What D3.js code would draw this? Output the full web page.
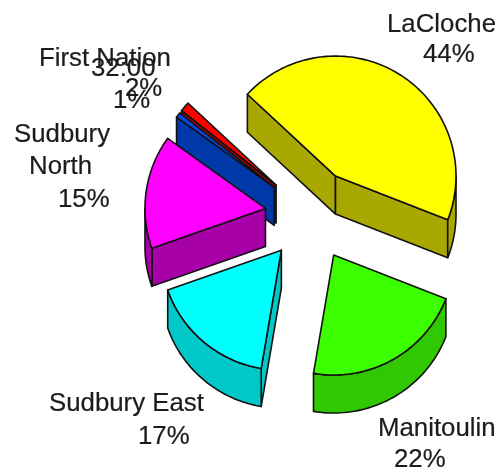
<!DOCTYPE html>
<html><head><meta charset="utf-8">
<script src="https://cdn.jsdelivr.net/npm/d3@7/dist/d3.min.js"></script>
<style>html,body{margin:0;background:#fff}svg{display:block;filter:blur(0.4px)}text{font-family:"Liberation Sans",Arial,sans-serif;fill:#1c1c1c;font-size:25.8px;stroke:#1c1c1c;stroke-width:0.2px}</style>
</head><body><div id="c"></div>
<script>
const categories = ["LaCloche","Manitoulin","Sudbury East","Sudbury North","32:00","First Nation"];
const shares = [43.9,21.7,16.9,15.3,0.7,1.3];
const topColors = ["#ffff00","#3cff00","#00ffff","#ff00ff","#0048e0","#ff0000"];
const wallColors = ["#a8a800","#30c800","#00c8c8","#a800a8","#0038a8","#a80000"];
const labelLines = [["LaCloche","44%"],["Manitoulin","22%"],["Sudbury East","17%"],["Sudbury","North","15%"],["32:00","1%"],["First Nation","2%"]];
const labelPos = [[[387,32],[423,62]],[[378,436],[394,467]],[[49,411],[138,444]],[[14,142],[29,174],[58,207]],[[91,76],[113,108]],[[39,66],[125,96]]];

const W=500,H=474,cx=311,cy=215,Rx=120.5,Ry=120,depth=38,explode=46;
const svg=d3.select("#c").append("svg").attr("width",W).attr("height",H);
const rad=Math.PI/180;
const pie=d3.pie().sort(null).value(d=>d.v).startAngle((-137)*rad+Math.PI/2).endAngle((-137+360)*rad+Math.PI/2);
const slices=pie(shares.map((v,i)=>({v,i})));
const sx=d3.scaleLinear().domain([-1,1]).range([-Rx,Rx]);
const sy=d3.scaleLinear().domain([-1,1]).range([-Ry,Ry]);
const pt=(c,t,dy=0)=>[c[0]+sx(Math.cos(t)),c[1]+sy(Math.sin(t))+dy];
const data=slices.map(s=>{
  const t0=s.startAngle-Math.PI/2,t1=s.endAngle-Math.PI/2,m=(t0+t1)/2;
  return {i:s.data.i,t0,t1,c:[cx+explode*Math.cos(m),cy+explode*Math.sin(m)]};
});
const line=d3.line();
function P(g,d,f){return g.append("path").attr("d",d).attr("fill",f).attr("stroke","#111").attr("stroke-width",1.6).attr("stroke-linejoin","round");}
const samples=(a,b,n)=>d3.range(n+1).map(k=>a+(b-a)*k/n);
function radial(g,d,t,f){
  P(g,line([d.c,pt(d.c,t),pt(d.c,t,depth),[d.c[0],d.c[1]+depth]])+"Z",f);
}
function outer(g,d,a,b,f){
  const n=samples(a,b,48);
  P(g,line(n.map(t=>pt(d.c,t)).concat(n.map(t=>pt(d.c,t,depth)).reverse()))+"Z",f);
}
const order=[0,5,4,3,2,1];
order.forEach(i=>{
  const d=data.find(x=>x.i===i),g=svg.append("g"),f=wallColors[i],a=d.t0,b=d.t1;
  if(Math.cos(a)<0||i===0) radial(g,d,a,f);
  if(Math.cos(b)>0) radial(g,d,b,f);
  for(let k=-1;k<=1;k++){
    const lo=Math.max(a,k*2*Math.PI),hi=Math.min(b,k*2*Math.PI+Math.PI);
    if(hi>lo) outer(g,d,lo,hi,f);
  }
  P(g,line([d.c].concat(samples(a,b,96).map(t=>pt(d.c,t))))+"Z",topColors[i]);
});
labelLines.forEach((ls,i)=>ls.forEach((t,j)=>{
  svg.append("text").attr("x",labelPos[i][j][0]).attr("y",labelPos[i][j][1]).text(t);
}));
</script></body></html>
